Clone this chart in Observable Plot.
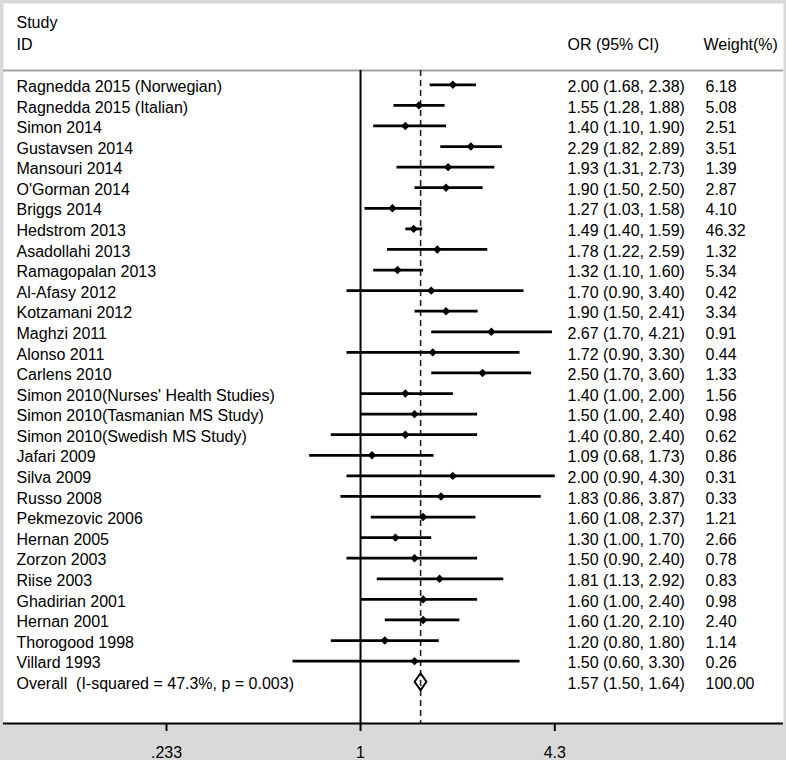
<!DOCTYPE html>
<html>
<head>
<meta charset="utf-8">
<script src="https://cdn.jsdelivr.net/npm/d3@7"></script>
<script src="https://cdn.jsdelivr.net/npm/@observablehq/plot@0.6"></script>
<style>
  html, body { margin: 0; padding: 0; background: #d9d9d9; }
  svg text { white-space: pre; }
</style>
</head>
<body>
<div id="chart"></div>
<script>
// ---- data ----
const studies = [
  "Ragnedda 2015 (Norwegian)", "Ragnedda 2015 (Italian)", "Simon 2014", "Gustavsen 2014",
  "Mansouri 2014", "O'Gorman 2014", "Briggs 2014", "Hedstrom 2013", "Asadollahi 2013",
  "Ramagopalan 2013", "Al-Afasy 2012", "Kotzamani 2012", "Maghzi 2011", "Alonso 2011",
  "Carlens 2010", "Simon 2010(Nurses' Health Studies)", "Simon 2010(Tasmanian MS Study)",
  "Simon 2010(Swedish MS Study)", "Jafari 2009", "Silva 2009", "Russo 2008",
  "Pekmezovic 2006", "Hernan 2005", "Zorzon 2003", "Riise 2003", "Ghadirian 2001",
  "Hernan 2001", "Thorogood 1998", "Villard 1993"
];
const orValues = [2.00, 1.55, 1.40, 2.29, 1.93, 1.90, 1.27, 1.49, 1.78, 1.32, 1.70, 1.90, 2.67, 1.72,
  2.50, 1.40, 1.50, 1.40, 1.09, 2.00, 1.83, 1.60, 1.30, 1.50, 1.81, 1.60, 1.60, 1.20, 1.50];
const ciLow = [1.68, 1.28, 1.10, 1.82, 1.31, 1.50, 1.03, 1.40, 1.22, 1.10, 0.90, 1.50, 1.70, 0.90,
  1.70, 1.00, 1.00, 0.80, 0.68, 0.90, 0.86, 1.08, 1.00, 0.90, 1.13, 1.00, 1.20, 0.80, 0.60];
const ciHigh = [2.38, 1.88, 1.90, 2.89, 2.73, 2.50, 1.58, 1.59, 2.59, 1.60, 3.40, 2.41, 4.21, 3.30,
  3.60, 2.00, 2.40, 2.40, 1.73, 4.30, 3.87, 2.37, 1.70, 2.40, 2.92, 2.40, 2.10, 1.80, 3.30];
const weights = ["6.18", "5.08", "2.51", "3.51", "1.39", "2.87", "4.10", "46.32", "1.32", "5.34",
  "0.42", "3.34", "0.91", "0.44", "1.33", "1.56", "0.98", "0.62", "0.86", "0.31", "0.33", "1.21",
  "2.66", "0.78", "0.83", "0.98", "2.40", "1.14", "0.26"];

const overallLabel = "Overall  (I-squared = 47.3%, p = 0.003)";
const overallOR = 1.57, overallLow = 1.50, overallHigh = 1.64, overallWeight = "100.00";

const headerLeft = ["Study", "ID"];
const headerOR = "OR (95% CI)";
const headerWeight = "Weight(%)";

const tickValues = [0.233, 1, 4.3];
const tickLabels = [".233", "1", "4.3"];

// ---- build rows ----
const f2 = d3.format(".2f");
const rows = studies.map((name, i) => ({
  i, name, or: orValues[i], lo: ciLow[i], hi: ciHigh[i],
  orText: `${f2(orValues[i])} (${f2(ciLow[i])}, ${f2(ciHigh[i])})`,
  weight: weights[i]
}));
const overallRow = {
  i: studies.length, name: overallLabel, or: overallOR, lo: overallLow, hi: overallHigh,
  orText: `${f2(overallOR)} (${f2(overallLow)}, ${f2(overallHigh)})`, weight: overallWeight
};
const textRows = [...rows, overallRow];
const dh = 0.41; // half height of the overall diamond in row units
const diamond = [
  {x: overallLow, y: overallRow.i},
  {x: overallOR, y: overallRow.i - dh},
  {x: overallHigh, y: overallRow.i},
  {x: overallOR, y: overallRow.i + dh}
];

const yTop = -3.95, yBottom = 31.03, headerLine = -0.695;
const font = "'Liberation Sans', Arial, sans-serif";

const chart = Plot.plot({
  width: 786,
  height: 760,
  marginTop: 3,
  marginBottom: 37,
  marginLeft: 3,
  marginRight: 3,
  style: {background: "#d9d9d9", fontFamily: font, fontSize: "16px", color: "black", overflow: "visible"},
  x: {type: "log", domain: [0.233, 4.3], range: [166, 554.3], axis: null},
  y: {domain: [yTop, yBottom], range: [3, 723], axis: null},
  marks: [
    Plot.frame({fill: "white", stroke: null}),
    Plot.ruleY([headerLine], {stroke: "#a3a3a3", strokeWidth: 2}),
    Plot.ruleX([1], {y1: headerLine, y2: yBottom, stroke: "black", strokeWidth: 2}),
    Plot.ruleX([overallOR], {y1: headerLine, y2: yBottom, stroke: "#222", strokeWidth: 1.6, strokeDasharray: "6,4"}),
    Plot.link(rows, {x1: "lo", x2: "hi", y1: "i", y2: "i", stroke: "black", strokeWidth: 2.8}),
    Plot.dot(rows, {x: "or", y: "i", symbol: "diamond2", r: 3.8, fill: "black", stroke: null}),
    Plot.line(diamond, {x: "x", y: "y", curve: "linear-closed", stroke: "black", strokeWidth: 2, fill: "none"}),
    // row texts
    Plot.text(textRows, {y: "i", text: "name", frameAnchor: "left", textAnchor: "start", dx: 13, dy: 2, fontSize: 16}),
    Plot.text(textRows, {y: "i", text: "orText", frameAnchor: "left", textAnchor: "start", dx: 564, dy: 2, fontSize: 16}),
    Plot.text(textRows, {y: "i", text: "weight", frameAnchor: "left", textAnchor: "start", dx: 702, dy: 2, fontSize: 16}),
    // headers
    Plot.text([headerLeft[0]], {frameAnchor: "top-left", textAnchor: "start", lineAnchor: "middle", dx: 13, dy: 19, fontSize: 16}),
    Plot.text([headerLeft[1]], {frameAnchor: "top-left", textAnchor: "start", lineAnchor: "middle", dx: 13, dy: 41.6, fontSize: 16}),
    Plot.text([headerOR], {frameAnchor: "top-left", textAnchor: "start", lineAnchor: "middle", dx: 564, dy: 41.6, fontSize: 16}),
    Plot.text([headerWeight], {frameAnchor: "top-left", textAnchor: "start", lineAnchor: "middle", dx: 700, dy: 41.6, fontSize: 16}),
    // axis
    Plot.axisX({
      anchor: "bottom", ticks: tickValues,
      tickFormat: d => tickLabels[tickValues.indexOf(d)],
      tickSize: 8, tickPadding: 15, strokeWidth: 2, fontSize: 16, label: null
    }),
    Plot.ruleY([yBottom], {stroke: "black", strokeWidth: 2})
  ]
});
document.getElementById("chart").appendChild(chart);
</script>
</body>
</html>
